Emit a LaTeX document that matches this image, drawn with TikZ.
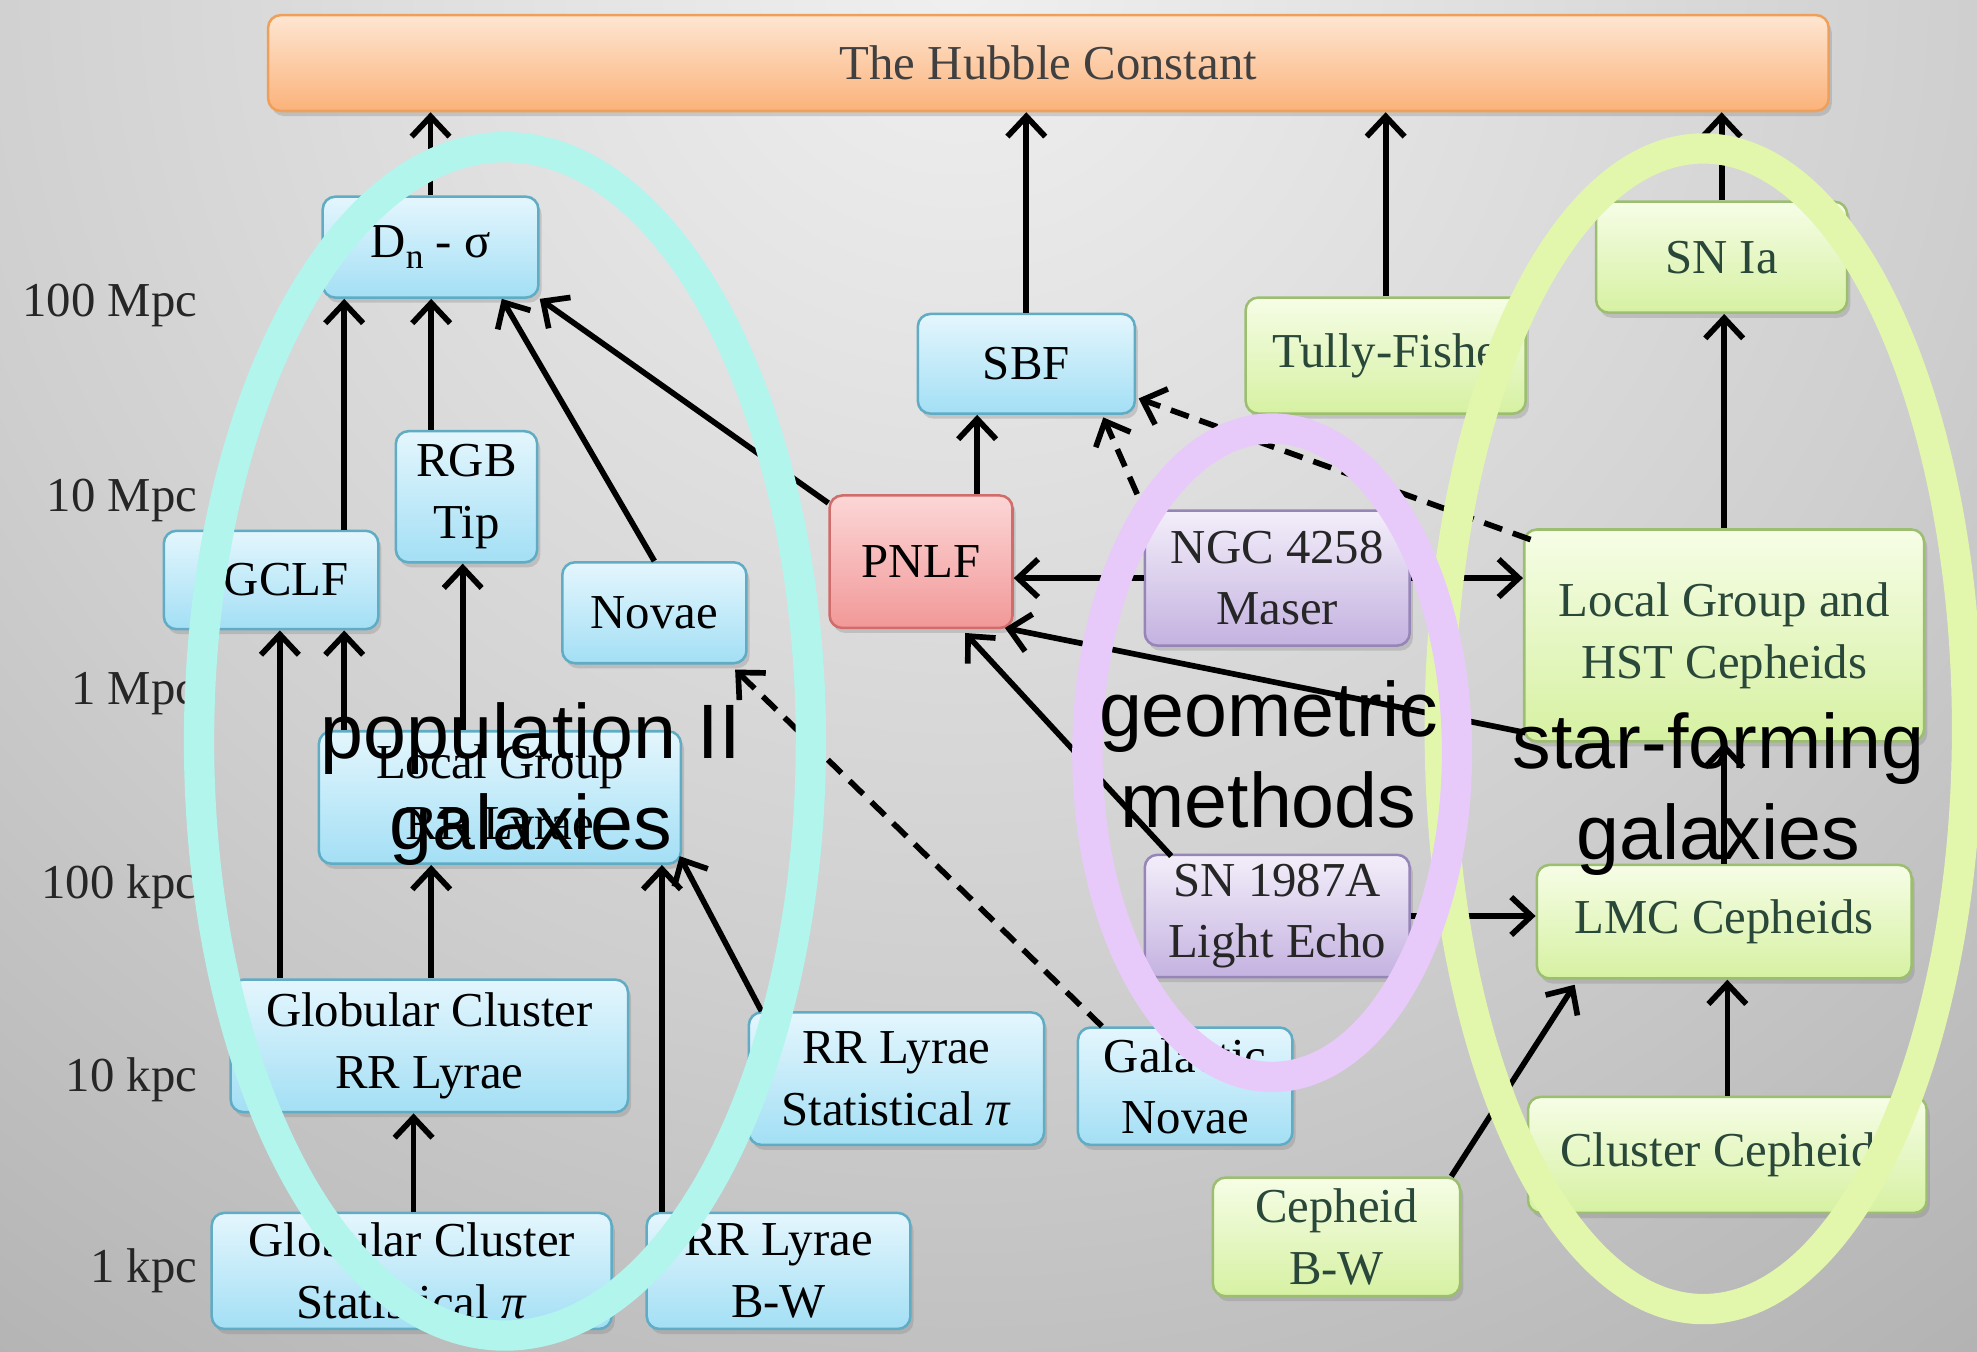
\documentclass[tikz,border=0pt]{standalone}
\usepackage{fontspec}
\setmainfont{Liberation Serif}
\newfontfamily\lblfont{Liberation Sans}
\usetikzlibrary{arrows.meta,calc,shadows}
\definecolor{blueT}{RGB}{228,246,253}
\definecolor{blueB}{RGB}{163,223,245}
\definecolor{blueD}{RGB}{96,172,196}
\definecolor{grnT}{RGB}{246,253,230}
\definecolor{grnB}{RGB}{214,241,162}
\definecolor{grnD}{RGB}{156,190,112}
\definecolor{grnTx}{RGB}{42,72,58}
\definecolor{purT}{RGB}{243,238,250}
\definecolor{purB}{RGB}{196,178,224}
\definecolor{purD}{RGB}{150,134,184}
\definecolor{redT}{RGB}{252,214,214}
\definecolor{redB}{RGB}{242,152,152}
\definecolor{redD}{RGB}{208,108,106}
\definecolor{orT}{RGB}{254,230,210}
\definecolor{orB}{RGB}{251,178,122}
\definecolor{orD}{RGB}{238,160,90}
\definecolor{cyanR}{RGB}{178,245,236}
\definecolor{purR}{RGB}{232,202,250}
\definecolor{grnR}{RGB}{226,247,172}
\definecolor{bgC}{RGB}{132,132,132}
\pgfdeclareradialshading{bgshade}{\pgfpoint{0bp}{0bp}}{rgb(0bp)=(0.94,0.94,0.94); rgb(6bp)=(0.89,0.89,0.89); rgb(15bp)=(0.81,0.81,0.81); rgb(26bp)=(0.69,0.69,0.69); rgb(37bp)=(0.61,0.61,0.61); rgb(46bp)=(0.54,0.54,0.54); rgb(50bp)=(0.52,0.52,0.52)}
\tikzset{
  box/.style={rounded corners=1mm, line width=0.2mm, align=center, inner sep=0pt,
    font=\fontsize{11}{13.9}\selectfont,
    drop shadow={shadow xshift=0.25mm, shadow yshift=-0.4mm, opacity=0.3}},
  bluebox/.style={box, draw=blueD, top color=blueT, bottom color=blueB, text=black},
  grnbox/.style={box, draw=grnD, top color=grnT, bottom color=grnB, text=grnTx},
  purbox/.style={box, draw=purD, top color=purT, bottom color=purB, text=black!85},
  redbox/.style={box, draw=redD, top color=redT, bottom color=redB, text=black},
  orbox/.style={box, draw=orD, top color=orT, bottom color=orB, text=black!75},
  arr/.style={line width=0.45mm, -{Straight Barb[length=1.6mm,width=3mm]}},
  dsh/.style={arr, dash pattern=on 1.5mm off 0.9mm},
  ring/.style={line width=2.4mm},
  scalelbl/.style={anchor=east, inner sep=0pt, font=\fontsize{11}{13.9}\selectfont, text=black!85},
  grp/.style={align=center, inner sep=0pt, text=black, font=\lblfont\fontsize{17.4}{20.5}\selectfont}
}
\begin{document}
\begin{tikzpicture}[x=0.01cm, y=-0.01cm]
\useasboundingbox (0,0) rectangle (1568,1072);
\fill[bgC] (0,0) rectangle (1568,1072);
\begin{scope}
\clip (0,0) rectangle (1568,1072);
\shade[shading=bgshade] (760,-20) circle (13.6cm);
\end{scope}

% scale labels
\node[scalelbl] (s1) at (157,242) {100 Mpc};
\node[scalelbl] (s2) at (157,397) {10 Mpc};
\node[scalelbl] (s3) at (157,550) {1 Mpc};
\node[scalelbl] (s4) at (157,703) {100 kpc};
\node[scalelbl] (s5) at (157,856) {10 kpc};
\node[scalelbl] (s6) at (157,1008) {1 kpc};

% boxes
\node[orbox, minimum width=12.37cm, minimum height=0.76cm] (hub) at (831.5,50) {The Hubble Constant};
\node[bluebox, minimum width=1.71cm, minimum height=0.80cm] (dn) at (341.5,196) {D\raisebox{-0.5ex}{\fontsize{8}{8}\selectfont n} - σ};
\node[bluebox, minimum width=1.72cm, minimum height=0.79cm] (sbf) at (814,288.5) {SBF};
\node[grnbox, minimum width=2.22cm, minimum height=0.92cm] (tf) at (1099,282) {\hspace*{0.12cm}Tully-Fisher};
\node[grnbox, minimum width=1.99cm, minimum height=0.88cm] (snia) at (1365.5,204) {SN Ia};
\node[bluebox, minimum width=1.12cm, minimum height=1.04cm] (rgb) at (370,394) {RGB\\Tip};
\node[bluebox, minimum width=1.70cm, minimum height=0.78cm] (gclf) at (215,460) {\hspace*{0.24cm}GCLF};
\node[bluebox, minimum width=1.46cm, minimum height=0.80cm] (nov) at (519,486) {Novae};
\node[redbox, minimum width=1.45cm, minimum height=1.05cm] (pnlf) at (730.5,445.5) {PNLF};
\node[purbox, minimum width=2.10cm, minimum height=1.07cm] (ngc) at (1013,458.5) {NGC 4258\\Maser};
\node[grnbox, minimum width=3.17cm, minimum height=1.68cm] (lghst) at (1367.5,504) {Local Group and\\HST Cepheids};
\node[bluebox, minimum width=2.87cm, minimum height=1.05cm] (lgrr) at (396.5,632.5) {Local Group\\RR Lyrae};
\node[purbox, minimum width=2.10cm, minimum height=0.97cm] (sn87) at (1013,726.5) {SN 1987A\\Light Echo};
\node[grnbox, minimum width=2.97cm, minimum height=0.90cm] (lmc) at (1367.5,731) {LMC Cepheids};
\node[bluebox, minimum width=3.15cm, minimum height=1.05cm] (gcrr) at (340.5,829.5) {Globular Cluster\\RR Lyrae};
\node[bluebox, minimum width=2.34cm, minimum height=1.05cm] (rrstat) at (711,855.5) {RR Lyrae\\Statistical \textit{π}};
\node[bluebox, minimum width=1.70cm, minimum height=0.93cm] (galn) at (940,861.5) {Galactic\\Novae};
\node[grnbox, minimum width=3.16cm, minimum height=0.92cm] (clc) at (1370,916) {Cluster Cepheids};
\node[grnbox, minimum width=1.96cm, minimum height=0.94cm] (cbw) at (1060,981) {Cepheid\\B-W};
\node[bluebox, minimum width=3.17cm, minimum height=0.92cm] (gcstat) at (326.5,1008) {Globular Cluster\\Statistical \textit{π}};
\node[bluebox, minimum width=2.09cm, minimum height=0.92cm] (rrbw) at (617.5,1008) {RR Lyrae\\B-W};

% connectors
\draw[arr] (dn.north) -- (dn.north |- hub.south);
\draw[arr] (sbf.north) -- (sbf.north |- hub.south);
\draw[arr] (tf.north) -- (tf.north |- hub.south);
\draw[arr] (snia.north) -- (snia.north |- hub.south);
\draw[arr] ($(gclf.north)+(58,0)$) -- ($(dn.south)+(-68.5,0)$);
\draw[arr] ($(rgb.north)+(-28,0)$) -- ($(dn.south)+(0.5,0)$);
\draw[arr] (nov.north) -- ($(dn.south)+(56.5,0)$);
\draw[arr] ($(pnlf.north west)+(0,7)$) -- (dn.south east);
\draw[arr] ($(pnlf.north)+(44.5,0)$) -- ($(sbf.south)+(-39,0)$);
\draw[arr] (ngc.west) -- (ngc.west -| pnlf.east);
\draw[arr] (ngc.east) -- (ngc.east -| lghst.west);
\draw[dsh] ($(lghst.north west)+(6,9)$) -- ($(sbf.south east)+(2,-13)$);
\draw[dsh] ($(ngc.north west)+(-5,-12)$) -- ($(sbf.south east)+(-26,2)$);
\draw[arr] (lghst.north) -- (lghst.north |- snia.south);
\draw[arr] (lmc.north) -- (lmc.north |- lghst.south);
\draw[arr] ($(lghst.south west)+(2,-8)$) -- ($(pnlf.south east)+(-7,-1)$);
\draw[arr] ($(sn87.north west)+(22,2)$) -- ($(pnlf.south)+(35,3)$);
\draw[arr] (sn87.east) -- (sn87.east -| lmc.west);
\draw[arr] (clc.north) -- (clc.north |- lmc.south);
\draw[arr] ($(cbw.north east)+(-8,0)$) -- ($(lmc.south west)+(31,4)$);
\draw[dsh] ($(galn.north west)+(20,0)$) -- ($(nov.south east)+(-10,4)$);
\draw[arr] ($(lgrr.north)+(-123.5,0)$) -- ($(gclf.south)+(58,0)$);
\draw[arr] ($(lgrr.north)+(-29.5,0)$) -- ($(rgb.south)+(-3,0)$);
\draw[arr] ($(gcrr.north)+(-118.5,0)$) -- ($(gclf.south)+(7,0)$);
\draw[arr] ($(gcrr.north)+(1.5,0)$) -- ($(lgrr.south)+(-54.5,0)$);
\draw[arr] ($(gcstat.north)+(1.5,0)$) -- ($(gcrr.south)+(-12.5,0)$);
\draw[arr] ($(rrbw.north)+(-92.5,0)$) -- ($(lgrr.south)+(128.5,0)$);
\draw[arr] ($(rrstat.north west)+(11,0)$) -- ($(lgrr.south east)+(-2,-7)$);

% group ellipses
\draw[ring, draw=cyanR] (400.5,588) ellipse [x radius=2.425cm, y radius=4.71cm];
\draw[ring, draw=grnR] (1351,578) ellipse [x radius=2.09cm, y radius=4.60cm];
\draw[ring, draw=purR] (1009,597) ellipse [x radius=1.465cm, y radius=2.57cm];

% group labels
\node[grp] (g1) at (421,622) {population II\\galaxies};
\node[grp] (g2) at (1006,598) {geometric\\methods};
\node[grp] (g3) at (1363,630) {star-forming\\galaxies};
\end{tikzpicture}
\end{document}
